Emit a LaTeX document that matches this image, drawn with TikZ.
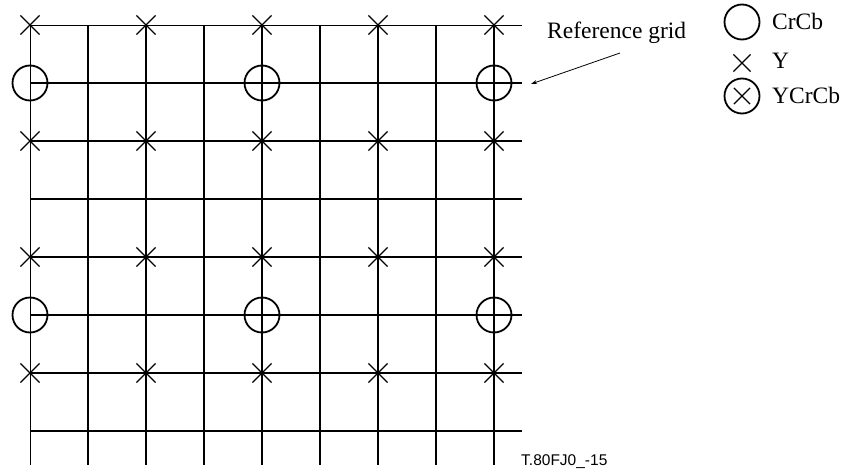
\documentclass[tikz,border=0pt]{standalone}
\usepackage{fontspec}
\setmainfont{Liberation Serif}
\newfontfamily\figsans{Liberation Sans}
\usetikzlibrary{shapes.misc,arrows.meta}
\begin{document}
\begin{tikzpicture}[
				x=1pt, y=-1pt,
				gridline/.style={line width=1.6pt},
				edgeline/.style={line width=0.9pt},
				ysample/.style={draw, cross out, minimum size=18pt, inner sep=0pt, line width=1.2pt},
				csample/.style={draw, circle, minimum size=35pt, inner sep=0pt, line width=1.8pt},
				legendtext/.style={anchor=base west, inner sep=0pt, font=\fontsize{23.5}{26}\selectfont}
				]
				\useasboundingbox (0,0) rectangle (842,468);
				% reference grid
				\foreach \i in {1,...,8}
					\draw[gridline] (30+58*\i,25) -- (30+58*\i,465);
				\foreach \j in {1,...,7}
					\draw[gridline] (30,25+58*\j) -- (522,25+58*\j);
				\draw[edgeline] (30,465) -- (30,25) -- (522,25);
				% Y samples
				\foreach \r in {0,...,3}
					\foreach \c in {0,...,4}
						\node[ysample] (y\r\c) at (30+116*\c,25+116*\r) {};
				% CrCb samples
				\foreach \r in {0,1}
					\foreach \c in {0,1,2}
						\node[csample] (c\r\c) at (30+232*\c,83+232*\r) {};
				% label and arrow
				\node[legendtext] (refgrid) at (547,39) {Reference grid};
				\coordinate (rgtail) at (620,53);
				\coordinate (rgtip) at (531,84);
				\draw[line width=0.8pt, -{Stealth[length=6pt, width=4pt]}] (rgtail) -- (rgtip);
				% legend
				\node[csample] (lgc) at (742,22) {};
				\node[legendtext] (lgctext) at (772,30) {CrCb};
				\node[ysample, minimum size=16pt] (lgy) at (742,63) {};
				\node[legendtext] (lgytext) at (772,69) {Y};
				\node[csample] (lgyc) at (742,96) {};
				\node[ysample, minimum size=15pt] (lgycx) at (742,96) {};
				\node[legendtext] (lgyctext) at (772,103) {YCrCb};
				\node[anchor=base west, inner sep=0pt, font=\figsans\fontsize{15.5}{17}\selectfont] (figid) at (521,465) {T.80FJ0\_-15};
			\end{tikzpicture}
\end{document}
